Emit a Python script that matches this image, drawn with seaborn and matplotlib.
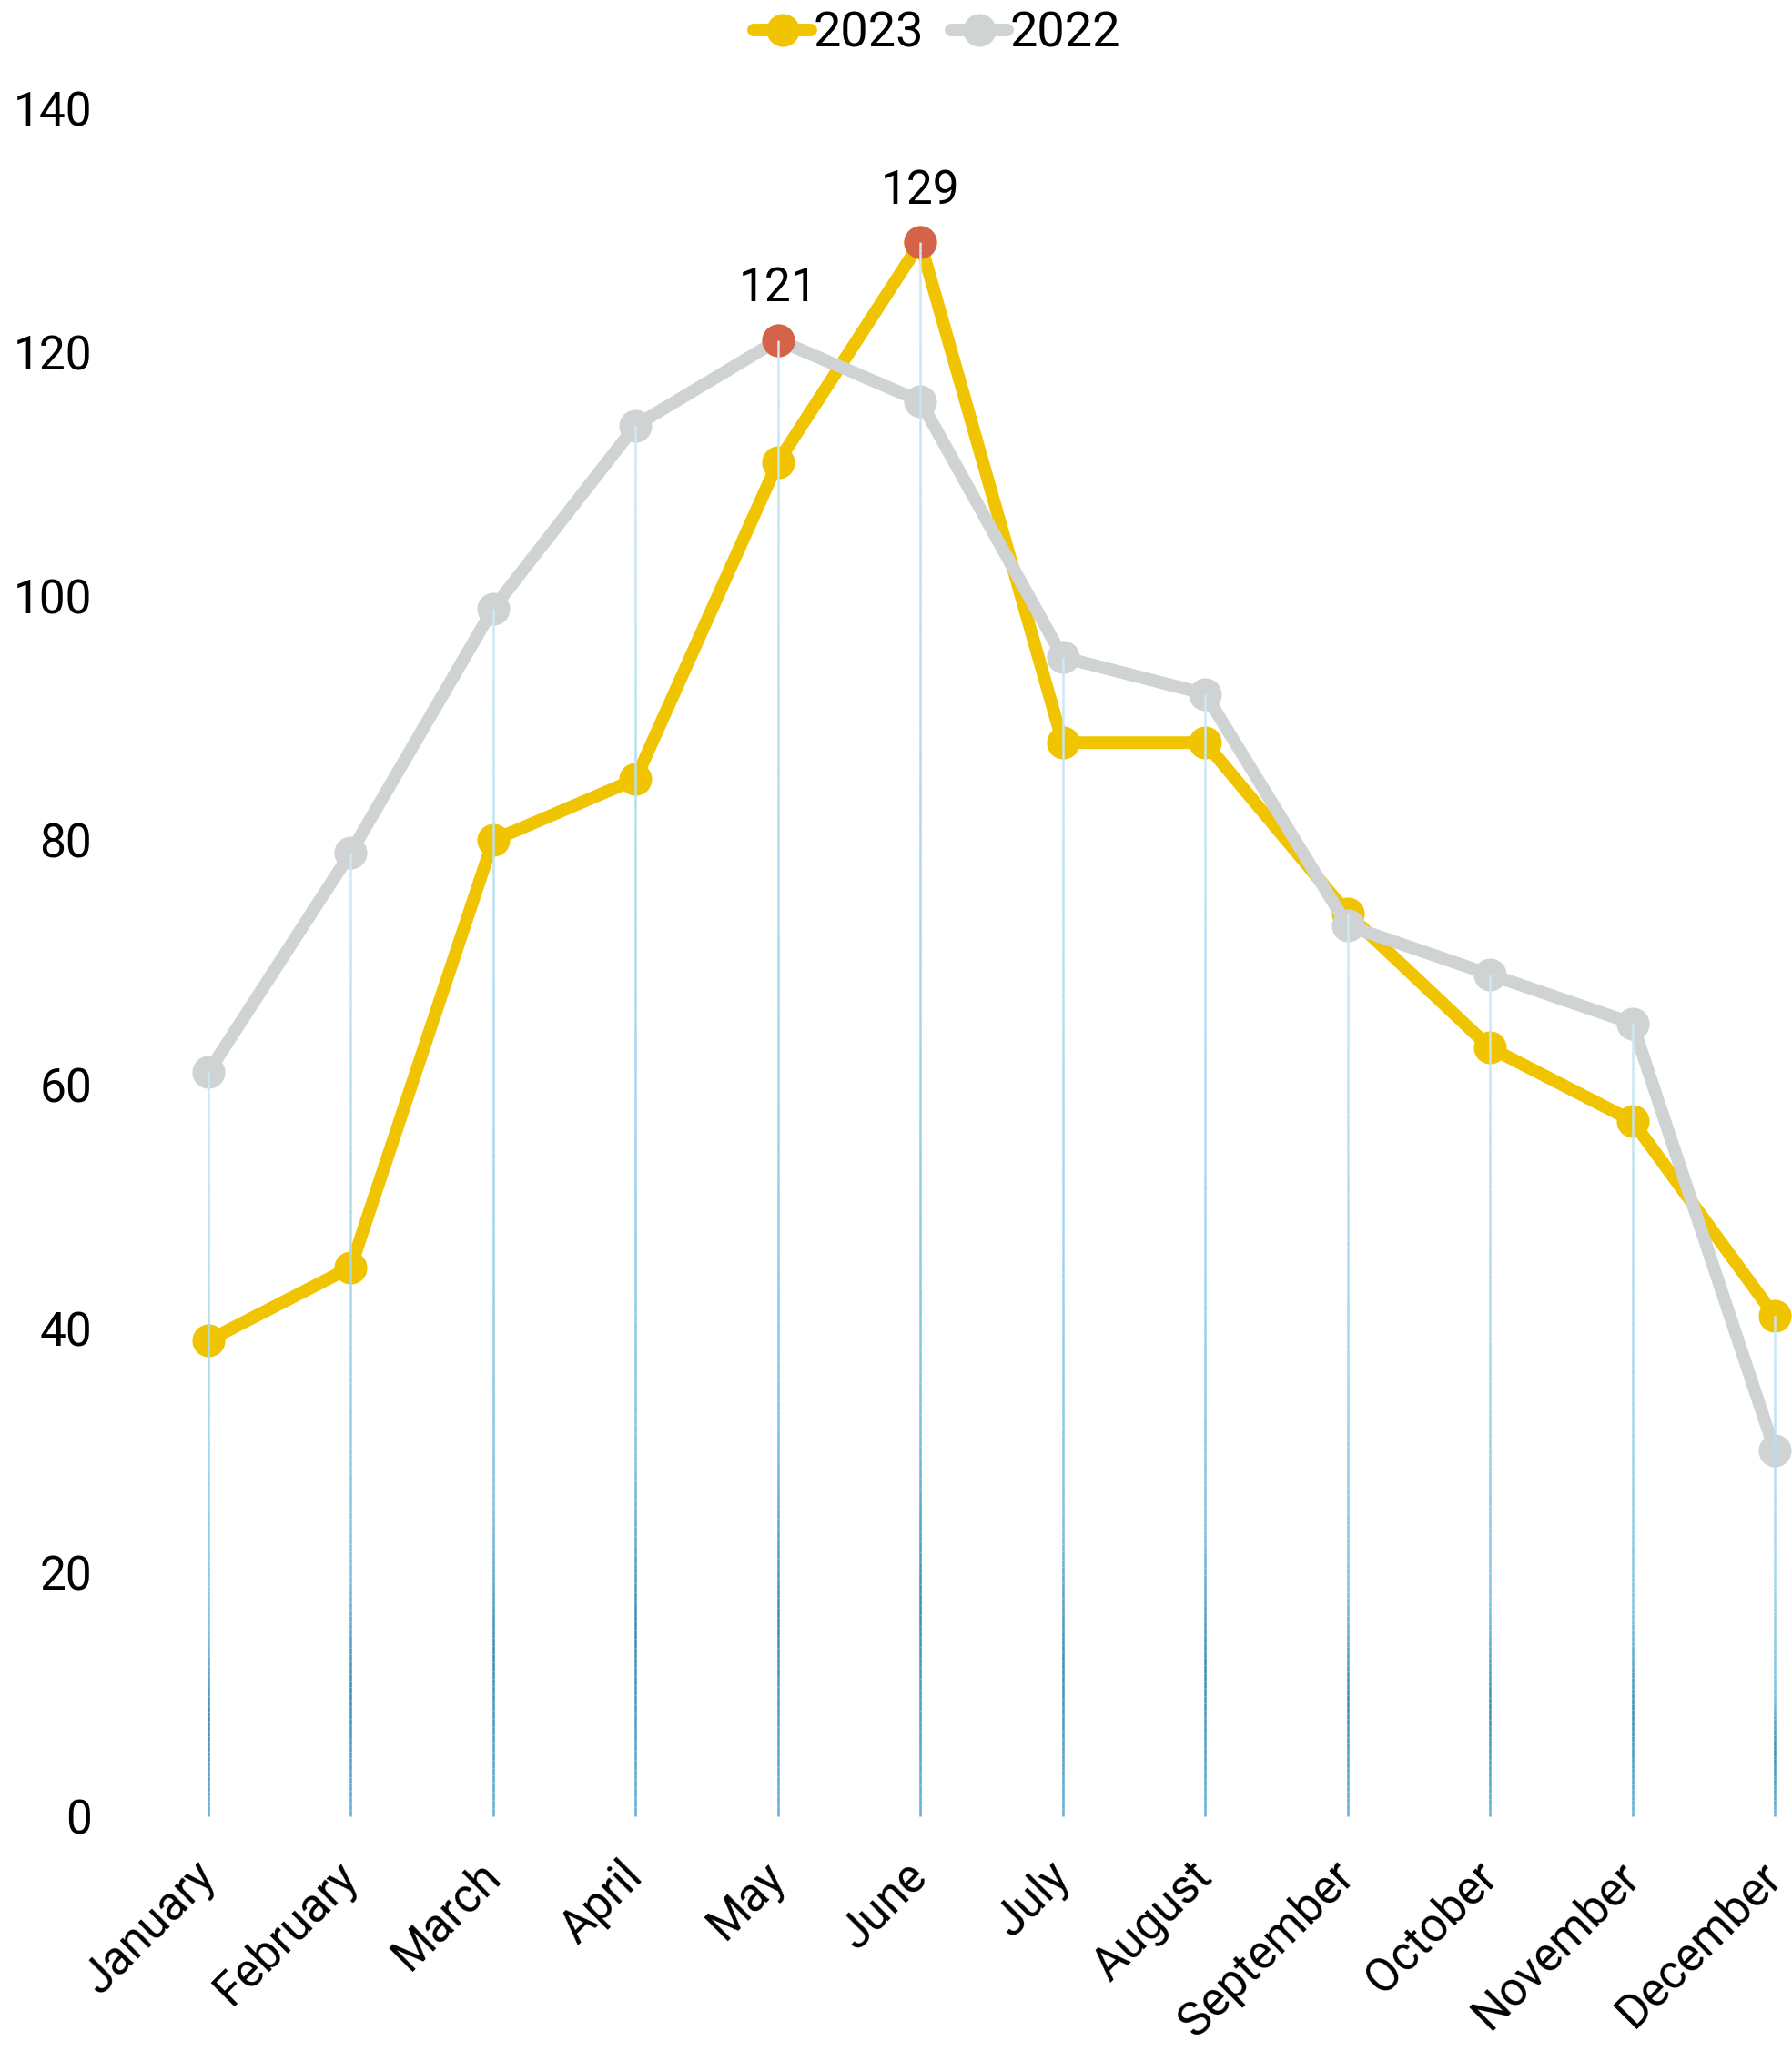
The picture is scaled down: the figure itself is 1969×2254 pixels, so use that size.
import numpy as np
import pandas as pd
import matplotlib
matplotlib.use("Agg")
import matplotlib.pyplot as plt
import seaborn as sns
from matplotlib.collections import LineCollection
from matplotlib.colors import LinearSegmentedColormap
from matplotlib.lines import Line2D

# Data
months = ["January", "February", "March", "April", "May", "June",
          "July", "August", "September", "October", "November", "December"]
sales_2023 = [39, 45, 80, 85, 111, 129, 88, 88, 74, 63, 57, 41]
sales_2022 = [61, 79, 99, 114, 121, 116, 95, 92, 73, 69, 65, 30]
years = ["2023", "2022"]
y_ticks = [0, 20, 40, 60, 80, 100, 120, 140]

yellow = "#F0C400"
grey = "#D0D3D4"
red = "#D4634A"

df = pd.DataFrame({
    "month": months * 2,
    "value": sales_2023 + sales_2022,
    "year": ["2023"] * 12 + ["2022"] * 12,
})

sns.set_theme(style="white")
plt.rcParams["font.family"] = ["Roboto", "DejaVu Sans"]
plt.rcParams["text.color"] = "black"
plt.rcParams["xtick.color"] = "black"
plt.rcParams["ytick.color"] = "black"

fig = plt.figure(figsize=(19.69, 22.54), dpi=100)
ax = fig.add_axes([229 / 1969, 1 - 1996 / 2254, (1950 - 229) / 1969, (1996 - 119) / 2254])

g = sns.lineplot(data=df, x="month", y="value", hue="year", hue_order=years,
                 palette={"2023": yellow, "2022": grey}, marker="o", markersize=26,
                 markeredgewidth=0, linewidth=10, sort=False, legend=False, ax=ax)
for ln in ax.lines:
    ln.set_clip_on(False)
    ln.set_solid_capstyle("round")

# highlight max of each year
for vals in (sales_2023, sales_2022):
    i = int(np.argmax(vals))
    ax.plot([months[i]], [vals[i]], "o", color=red, markersize=26,
            markeredgewidth=0, zorder=5, clip_on=False)
    ax.annotate(str(vals[i]), (months[i], vals[i]), xytext=(0, 41),
                textcoords="offset points", ha="center", va="center",
                fontsize=37, color="black")

# gradient drop lines from the top point down to zero
cmap = LinearSegmentedColormap.from_list("drop", [
    (0.0, "#cfe9f4"), (0.5, "#a3d5eb"), (0.75, "#7cc1e0"),
    (0.87, "#3a8cb3"), (1.0, "#62b0d6")])
for i in range(len(months)):
    top = max(sales_2023[i], sales_2022[i])
    ys = np.linspace(top, 0, 150)
    segs = [[(i, ys[k]), (i, ys[k + 1])] for k in range(len(ys) - 1)]
    t = np.linspace(0, 1, len(segs))
    lc = LineCollection(segs, colors=cmap(t), linewidths=1.8, zorder=6)
    lc.set_clip_on(False)
    ax.add_collection(lc)

ax.set_xlim(0, len(months) - 1)
ax.set_ylim(0, 140)
ax.set_yticks(y_ticks)
ax.set_xlabel("")
ax.set_ylabel("")
sns.despine(ax=ax, left=True, bottom=True)
ax.tick_params(axis="y", length=0, pad=92, labelsize=37, labelcolor="black")
ax.tick_params(axis="x", length=0, pad=42, labelsize=37, labelcolor="black")
for lab in ax.get_yticklabels():
    lab.set_ha("right")
plt.setp(ax.get_xticklabels(), rotation=45, ha="right", va="center",
         rotation_mode="anchor")

handles = [Line2D([], [], color=yellow, lw=10, marker="o", markersize=26,
                  markeredgewidth=0, solid_capstyle="round"),
           Line2D([], [], color=grey, lw=10, marker="o", markersize=26,
                  markeredgewidth=0, solid_capstyle="round")]
fig.legend(handles, years, loc="center", bbox_to_anchor=(0.523, 0.9835),
           ncol=2, frameon=False, fontsize=39, handlelength=1.15,
           handletextpad=0.05, columnspacing=0.55, labelcolor="black")

fig.savefig("out.png", dpi=100)
